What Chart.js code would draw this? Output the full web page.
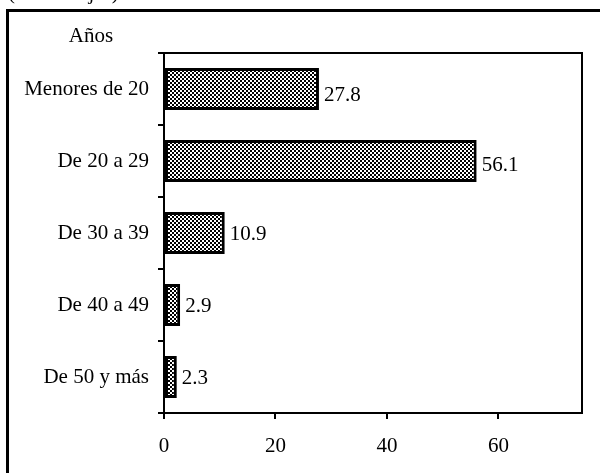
<!DOCTYPE html>
<html>
<head>
<meta charset="utf-8">
<script src="https://cdn.jsdelivr.net/npm/chart.js@4.4.1/dist/chart.umd.min.js"></script>
<style>
  html, body { margin: 0; padding: 0; background: #fff; }
  #wrap { width: 600px; height: 473px; position: relative; }
</style>
</head>
<body>
<div id="wrap"><canvas id="c" width="600" height="473"></canvas></div>
<script>
const categories = ["Menores de 20", "De 20 a 29", "De 30 a 39", "De 40 a 49", "De 50 y más"];
const values = [27.8, 56.1, 10.9, 2.9, 2.3];
const valueLabels = ["27.8", "56.1", "10.9", "2.9", "2.3"];
const xTicks = [0, 20, 40, 60];
const axisTitle = "Años";
const unitsNote = "(Porcentajes)";

const FONT = "'Liberation Serif', 'Times New Roman', serif";
const FS = 21;

// checkerboard pattern
const pc = document.createElement('canvas');
pc.width = 4; pc.height = 4;
const px = pc.getContext('2d');
px.fillStyle = '#fff'; px.fillRect(0, 0, 4, 4);
px.fillStyle = '#000'; px.fillRect(0, 0, 2, 2); px.fillRect(2, 2, 2, 2);
const ctx = document.getElementById('c').getContext('2d');
const pattern = ctx.createPattern(pc, 'repeat');

const decor = {
  id: 'decor',
  afterDraw(chart) {
    const c = chart.ctx;
    const a = chart.chartArea;
    c.save();
    // outer frame (partially off-canvas)
    c.strokeStyle = '#000';
    c.lineWidth = 3;
    c.beginPath();
    c.moveTo(7.5, 473);
    c.lineTo(7.5, 10.5);
    c.lineTo(600, 10.5);
    c.stroke();
    // plot box top and right
    c.lineWidth = 2;
    c.beginPath();
    c.moveTo(a.left, a.top);
    c.lineTo(a.right, a.top);
    c.lineTo(a.right, a.bottom);
    c.stroke();
    // texts
    c.fillStyle = '#000';
    c.font = FS + 'px ' + FONT;
    c.textAlign = 'left';
    c.textBaseline = 'alphabetic';
    c.fillText(unitsNote, 8, -1);
    c.textAlign = 'center';
    c.fillText(axisTitle, 91, 42);
    // value labels
    const xs = chart.scales.x, ys = chart.scales.y;
    const dy = [6, 4, 1, 1, 1];
    c.textAlign = 'left';
    c.textBaseline = 'middle';
    values.forEach((v, i) => {
      c.fillText(valueLabels[i], xs.getPixelForValue(v) + 5, ys.getPixelForValue(i) + dy[i]);
    });
    c.restore();
  }
};

new Chart(ctx, {
  type: 'bar',
  data: {
    labels: categories,
    datasets: [{
      data: values,
      backgroundColor: pattern,
      borderColor: '#000',
      borderWidth: 3,
      borderSkipped: false,
      categoryPercentage: 1,
      barPercentage: 0.58
    }]
  },
  options: {
    indexAxis: 'y',
    responsive: false,
    animation: false,
    devicePixelRatio: 1,
    layout: { padding: { left: 0, top: 53, right: 18, bottom: 0 } },
    plugins: { legend: { display: false }, tooltip: { enabled: false } },
    scales: {
      x: {
        min: 0, max: 75,
        afterFit(s) { s.height = 60; },
        afterBuildTicks(s) { s.ticks = xTicks.map(v => ({ value: v })); },
        ticks: { color: '#000', font: { family: FONT, size: FS }, padding: 15, includeBounds: false },
        grid: { drawOnChartArea: false, drawTicks: true, tickLength: 6, color: '#000', lineWidth: 2 },
        border: { display: true, color: '#000', width: 2 }
      },
      y: {
        afterFit(s) { s.width = 164; },
        ticks: { color: '#000', font: { family: FONT, size: FS }, padding: 9 },
        grid: { offset: true, drawOnChartArea: false, drawTicks: true, tickLength: 6, color: '#000', lineWidth: 2 },
        border: { display: true, color: '#000', width: 2 }
      }
    }
  },
  plugins: [decor]
});
</script>
</body>
</html>
